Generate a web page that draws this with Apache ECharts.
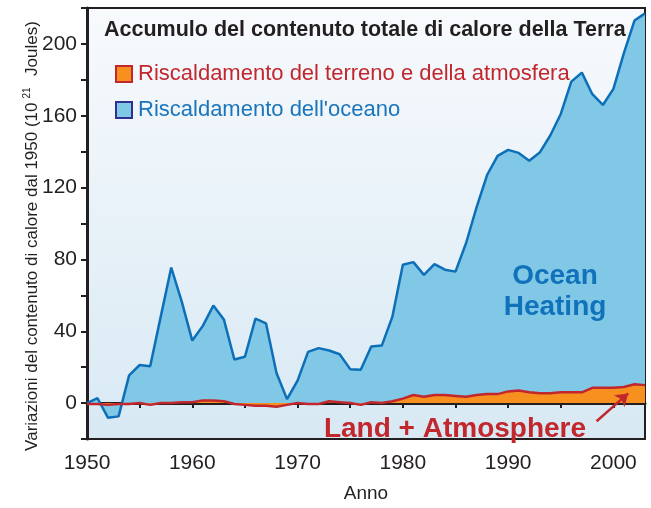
<!DOCTYPE html>
<html>
<head>
<meta charset="utf-8">
<script src="https://cdn.jsdelivr.net/npm/echarts@6/dist/echarts.min.js"></script>
<style>html,body{margin:0;padding:0;background:#fff}#c{width:651px;height:508px}</style>
</head>
<body>
<div id="c"></div>
<script>
var years = [1950,1951,1952,1953,1954,1955,1956,1957,1958,1959,1960,1961,1962,1963,1964,1965,1966,1967,1968,1969,1970,1971,1972,1973,1974,1975,1976,1977,1978,1979,1980,1981,1982,1983,1984,1985,1986,1987,1988,1989,1990,1991,1992,1993,1994,1995,1996,1997,1998,1999,2000,2001,2002,2003];
var oceanHeating = [0,2.7,-8.2,-7.4,15.4,21.2,20.5,48,75.5,56.5,34.8,43,54.3,46.6,24.3,25.8,47,44.4,16.7,2.2,12.5,28.5,30.6,29.3,27.2,18.9,18.5,31.5,32,48,77,78.5,71.4,77.4,74.3,73.2,89,109,127,137.7,141,139.3,135,139.5,149,161,179,184,172,166,175,195,213,217];
var landAtmosphere = [-0.5,-0.5,-1,-0.5,-0.5,0,-1,0,0,0.5,0.5,1.5,1.5,1,-0.5,-1,-1.5,-1.5,-2,-1,0,-0.5,-0.5,1,0.5,0,-1,0.5,0,1,2.5,4.5,3.5,4.5,4.5,4,3.5,4.5,5,5,6.5,7,6,5.5,5.5,6,6,6,8.5,8.5,8.5,9,10.5,10];
var yTicks = [0,40,80,120,160,200];
var xTicks = [1950,1960,1970,1980,1990,2000];
var titleText = 'Accumulo del contenuto totale di calore della Terra';
var legendNames = ['Riscaldamento del terreno e della atmosfera', "Riscaldamento dell'oceano"];

var chart = echarts.init(document.getElementById('c'), null, {renderer:'canvas'});
var font = '"Liberation Sans", Arial, sans-serif';
var dark = '#231f20';
function pairs(v){ return years.map(function(y,i){ return [y, v[i]]; }); }

chart.setOption({
  animation: false,
  backgroundColor: '#ffffff',
  textStyle: {fontFamily: font},
  grid: {
    left: 87, right: 6, top: 8, bottom: 60,
    show: true,
    borderColor: dark, borderWidth: 2,
    backgroundColor: new echarts.graphic.LinearGradient(0,0,0,1,[{offset:0,color:'#f8fafd'},{offset:1,color:'#d8e9f4'}])
  },
  title: {
    text: titleText, left: 99, top: 14,
    textStyle: {fontFamily: font, fontSize: 21.5, fontWeight: 'bold', color: dark}
  },
  legend: {
    orient: 'vertical', left: 110, top: 58, itemGap: 14,
    itemWidth: 16, itemHeight: 16, icon: 'rect',
    selectedMode: false,
    data: [
      {name: legendNames[0], itemStyle:{color:'#f7901e', borderColor:'#c1272d', borderWidth:2}, textStyle:{color:'#c1272d'}},
      {name: legendNames[1], itemStyle:{color:'#7fc8e6', borderColor:'#2e3192', borderWidth:2}, textStyle:{color:'#1b75bb'}}
    ],
    textStyle: {fontFamily: font, fontSize: 22, padding:[0,0,0,1]}
  },
  xAxis: {
    type: 'value', min: 1950, max: 2003, interval: 5,
    name: 'Anno', nameLocation: 'middle', nameGap: 45,
    nameTextStyle: {fontFamily: font, fontSize: 19, color: dark},
    axisLine: {show: true, lineStyle: {color: dark, width: 3}},
    axisTick: {show: true, inside: false, length: 5, lineStyle: {color: dark, width: 2}},
    axisLabel: {fontFamily: font, fontSize: 21, color: dark, margin: 14,
      formatter: function(v){ return xTicks.indexOf(v) >= 0 ? String(v) : ''; }},
    splitLine: {show: false}
  },
  yAxis: {
    type: 'value', min: -20, max: 220, interval: 20,
    axisLine: {show: true, lineStyle: {color: dark, width: 3}},
    axisTick: {show: true, inside: false, length: 6, lineStyle: {color: dark, width: 2}},
    axisLabel: {fontFamily: font, fontSize: 21, color: dark, margin: 10,
      formatter: function(v){ return yTicks.indexOf(v) >= 0 ? String(v) : ''; }},
    splitLine: {show: false}
  },
  series: [
    {
      name: legendNames[1], type: 'line', data: pairs(oceanHeating),
      symbol: 'none', z: 2,
      lineStyle: {color: '#0d6fb8', width: 2.5},
      itemStyle: {color: '#7fc8e6'},
      areaStyle: {color: '#80c8e6', opacity: 1}
    },
    {
      name: legendNames[0], type: 'line', data: pairs(landAtmosphere),
      symbol: 'none', z: 3,
      lineStyle: {color: '#c1272d', width: 2.5},
      itemStyle: {color: '#f7901e'},
      areaStyle: {color: '#f7901e', opacity: 1},
      markLine: {
        silent: true, symbol: ['none','arrow'], symbolSize: [12, 12],
        lineStyle: {color: '#c1272d', width: 2.5, type: 'solid'},
        label: {show: false},
        data: [[{coord: [1998.4, -10.1]}, {coord: [2001.4, 5.4]}]]
      }
    }
  ],
  graphic: [
    {type: 'text', x: 455, y: 429, z: 100,
      style: {text: 'Land + Atmosphere', font: 'bold 28px ' + font, fill: '#c1272d', align: 'center', verticalAlign: 'middle'}},
    {type: 'text', x: 555, y: 292, z: 100,
      style: {text: 'Ocean\nHeating', font: 'bold 28px ' + font, fill: '#1072ba', align: 'center', verticalAlign: 'middle', lineHeight: 31}},
    {type: 'text', x: 32, y: 236, rotation: Math.PI/2, z: 100,
      style: {
        text: '{a|Variazioni del contenuto di calore dal 1950 (10}{s|21}{a|  Joules)}',
        align: 'center', verticalAlign: 'middle',
        rich: {
          a: {fontFamily: font, fontSize: 17, fill: dark, lineHeight: 20},
          s: {fontFamily: font, fontSize: 10, fill: dark, verticalAlign: 'top', padding:[0,2,0,4]}
        }
      }}
  ]
});
</script>
</body>
</html>
